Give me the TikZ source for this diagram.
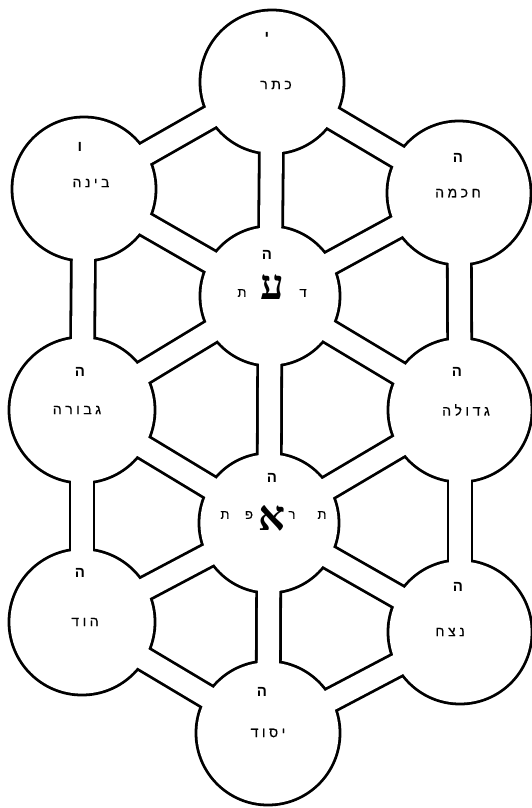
\documentclass[tikz,border=0pt]{standalone}
\usepackage{fontspec}
\setmainfont{Liberation Sans}
\newfontfamily\heb[Script=Hebrew,FakeBold=0.5]{Liberation Sans}
\newfontfamily\hebb[Script=Hebrew]{Liberation Sans Bold}
\newfontfamily\hebbig[Script=Hebrew]{Liberation Serif Bold}
\TeXXeTstate=1
\newcommand{\hw}[1]{\beginR #1\endR}
\newcommand{\gp}{\hspace{3.5pt}}
\tikzset{
  word/.style={font=\heb\fontsize{14}{16}\selectfont, inner sep=0pt},
  hlabel/.style={font=\hebb\fontsize{15}{17}\selectfont, inner sep=0pt},
  biglet/.style={font=\hebbig\fontsize{42}{44}\selectfont, inner sep=0pt},
  smalllet/.style={font=\heb\fontsize{13}{15}\selectfont, inner sep=0pt},
}
\begin{document}
\begin{tikzpicture}[x=1pt,y=-1pt]
\useasboundingbox (0,0) rectangle (532,808);
\fill[white] (0,0) rectangle (532,808);
% centres of the sefirot
\coordinate (K) at (272,82);
\coordinate (B) at (84,189);
\coordinate (C) at (459,193);
\coordinate (D) at (270,296);
\coordinate (G) at (82,410);
\coordinate (Ge) at (460,410);
\coordinate (T) at (269,523);
\coordinate (H) at (82,622);
\coordinate (N) at (460,632);
\coordinate (Y) at (268,733);
\def\circlist{K/72,B/72,C/72,D/70,G/73,Ge/72,T/70,H/73,N/72,Y/72}
\def\chanlist{K/B,K/C,K/D,B/D,C/D,B/G,C/Ge,D/G,D/Ge,D/T,G/T,Ge/T,G/H,Ge/N,T/H,T/N,T/Y,H/Y,N/Y}
% pass 1: black, grown by half a line width
\foreach \a/\b in \chanlist {\draw[black,line width=26.8pt] (\a) -- (\b);}
\foreach \c/\r in \circlist {\fill[black] (\c) circle[radius={(\r+1.4)*1pt}];}
% pass 2: white, shrunk by half a line width
\foreach \a/\b in \chanlist {\draw[white,line width=21.2pt] (\a) -- (\b);}
\foreach \c/\r in \circlist {\fill[white] (\c) circle[radius={(\r-1.4)*1pt}];}
% texts
\node[hlabel] (kh) at (267,37) {י};
\node[word] (kw) at (276,85) {\hw{כ\gp ת\gp ר}};
\node[hlabel] (bh) at (80,147) {ו};
\node[word] (bw) at (91,183) {\hw{ב\gp י\gp נ\gp ה}};
\node[hlabel] (ch) at (458,158) {ה};
\node[word] (cw) at (458,193) {\hw{ח\gp כ\gp מ\gp ה}};
\node[hlabel] (dh) at (267,255) {ה};
\node[biglet] (dbig) at (272,287) {ע};
\node[smalllet] (d1) at (242,293) {ת};
\node[smalllet] (d2) at (303,293) {ד};
\node[hlabel] (gh) at (80,372) {ה};
\node[word] (gw) at (77,410) {\hw{ג\gp ב\gp ו\gp ר\gp ה}};
\node[hlabel] (geh) at (457,372) {ה};
\node[word] (gew) at (466,410) {\hw{ג\gp ד\gp ו\gp ל\gp ה}};
\node[hlabel] (th) at (272,478) {ה};
\node[biglet] (tbig) at (272,518) {א};
\node[smalllet] (t1) at (225,515) {ת};
\node[smalllet] (t2) at (249,515) {פ};
\node[smalllet] (t3) at (292,515) {ר};
\node[smalllet] (t4) at (322,515) {ת};
\node[hlabel] (hh) at (80,573) {ה};
\node[word] (hw) at (85,622) {\hw{ה\gp ו\gp ד}};
\node[hlabel] (nh) at (458,587) {ה};
\node[word] (nw) at (450,632) {\hw{נ\gp צ\gp ח}};
\node[hlabel] (yh) at (262,692) {ה};
\node[word] (yw) at (268,733) {\hw{י\gp ס\gp ו\gp ד}};
\end{tikzpicture}
\end{document}
